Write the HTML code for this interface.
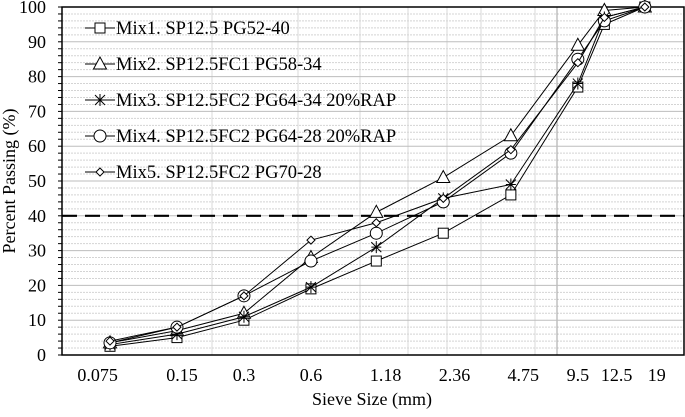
<!DOCTYPE html>
<html><head><meta charset="utf-8"><style>
body{margin:0;background:#fff}
svg text{font-family:"Liberation Serif",serif;fill:#000}
</style></head><body>
<svg id="c" width="685" height="412" xmlns="http://www.w3.org/2000/svg"></svg>
<script>
const sieves=[0.075,0.15,0.3,0.6,1.18,2.36,4.75,9.5,12.5,19];
const sieveLabels=["0.075","0.15","0.3","0.6","1.18","2.36","4.75","9.5","12.5","19"];
const labelAt=[0.066,0.158,0.3,0.6,1.3,2.65,5.4,9.5,14.2,21.5];
const yTicks=[0,10,20,30,40,50,60,70,80,90,100];
const mix1=[2.5,5,10,19,27,35,46,77,95,100];
const mix2=[3.5,7,12,28,41,51,63,89,99,100];
const mix3=[3,6,11,19.5,31,45,49,78,97,100];
const mix4=[3.5,8,17,27,35,44,58,85,96,100];
const mix5=[4,8,17,33,38,45,59,84,97,100];
const seriesNames=["Mix1. SP12.5 PG52-40","Mix2. SP12.5FC1 PG58-34","Mix3. SP12.5FC2 PG64-34 20%RAP","Mix4. SP12.5FC2 PG64-28 20%RAP","Mix5. SP12.5FC2 PG70-28"];
const controlLine=40;

const L=62,R=684,T=7,B=355;
const xs=v=>110+(Math.log10(v)-Math.log10(0.075))*222.5;
const ys=v=>B-(v/100)*(B-T);
const svg=document.getElementById('c');
const NS='http://www.w3.org/2000/svg';
function mk(tag,attrs,parent){const e=document.createElementNS(NS,tag);for(const k in attrs)e.setAttribute(k,attrs[k]);(parent||svg).appendChild(e);return e;}

for(let v=2;v<100;v+=2){if(v%10===0)continue;
const g=mk('line',{x1:L,x2:R,y1:ys(v),y2:ys(v),stroke:'#d4d4d4','stroke-width':1,'stroke-dasharray':'2,1'});

}
[212,298,360,408,447,481,535,557].forEach((x,i)=>{
const g=mk('line',{x1:x,x2:x,y1:T,y2:B,stroke:i===7?'#a0a0a0':'#d8d8d8','stroke-width':1});

});
yTicks.forEach(v=>{
const g=mk('line',{x1:L,x2:R,y1:ys(v),y2:ys(v),stroke:'#bdbdbd','stroke-width':1});


const t=mk('text',{x:46,y:ys(v)+6,'text-anchor':'end','font-size':18});
t.textContent=v;

});
for(let v=0;v<=100;v+=2){const t=mk('line',{x1:L-4,x2:L,y1:ys(v),y2:ys(v),stroke:'#000','stroke-width':1});

}
sieveLabels.forEach((s,i)=>{
const t=mk('text',{x:xs(labelAt[i]),y:381,'text-anchor':'middle','font-size':18});
t.textContent=s;

});
const cl=mk('line',{x1:L,x2:R,y1:ys(controlLine),y2:ys(controlLine),stroke:'#000','stroke-width':2.2,'stroke-dasharray':'15,8'});


const fr=mk('rect',{x:L,y:T,width:R-L,height:B-T,fill:'none',stroke:'#000','stroke-width':1.5});



function marker(type,x,y,g){
 const a={fill:'#fff',stroke:'#000','stroke-width':1};
 if(type==='square')return mk('rect',Object.assign({x:x-5,y:y-5,width:10,height:10},a),g);
 if(type==='triangle')return mk('polygon',Object.assign({points:`${x},${y-7} ${x-6.5},${y+5} ${x+6.5},${y+5}`},a),g);
 if(type==='circle')return mk('circle',Object.assign({cx:x,cy:y,r:6},a),g);
 if(type==='diamond')return mk('polygon',Object.assign({points:`${x},${y-4} ${x+4},${y} ${x},${y+4} ${x-4},${y}`},a),g);
 return mk('path',{d:`M${x-5} ${y}H${x+5}M${x} ${y-6}V${y+6}M${x-5} ${y-5}L${x+5} ${y+5}M${x-5} ${y+5}L${x+5} ${y-5}`,stroke:'#000','stroke-width':1,fill:'none'},g);
}
const allSeries=[mix1,mix2,mix3,mix4,mix5];
const types=['square','triangle','star','circle','diamond'];
allSeries.forEach((d,si)=>{
 const g=mk('g',{});
 
 
 const pl=mk('polyline',{points:d.map((v,i)=>xs(sieves[i])+','+ys(v)).join(' '),fill:'none',stroke:'#000','stroke-width':1},g);
 
 
 d.forEach((v,i)=>{const m=marker(types[si],xs(sieves[i]),ys(v),g);
 
 });
 const ly=28+si*36;
 const lg=mk('g',{});
 
 
 mk('line',{x1:85,x2:115,y1:ly,y2:ly,stroke:'#000','stroke-width':1},lg);
 marker(types[si],100,ly,lg);
 const t=mk('text',{x:116,y:ly+6,'font-size':18.5},lg);
 t.textContent=seriesNames[si];
});
const yt=mk('text',{x:0,y:0,'text-anchor':'middle','font-size':18,transform:`translate(15,${(T+B)/2}) rotate(-90)`});
yt.textContent='Percent Passing (%)';


const xt=mk('text',{x:372,y:405,'text-anchor':'middle','font-size':18});
xt.textContent='Sieve Size (mm)';


</script>
</body></html>
